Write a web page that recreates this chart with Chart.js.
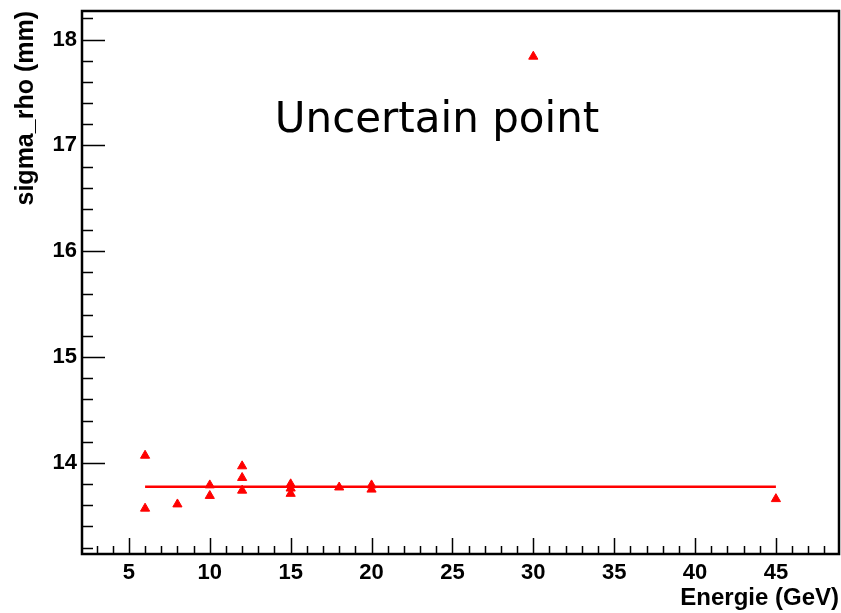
<!DOCTYPE html>
<html>
<head>
<meta charset="utf-8">
<script src="https://cdn.jsdelivr.net/npm/chart.js@4.4.1/dist/chart.umd.min.js"></script>
<style>
  html, body { margin: 0; padding: 0; background: #fff; }
  #wrap { width: 841px; height: 613px; }
</style>
</head>
<body>
<div id="wrap"><canvas id="chart" width="841" height="613"></canvas></div>
<script>
// data
const energie = [6, 6, 8, 10, 10, 12, 12, 12, 15, 15, 15, 18, 20, 20, 30, 45];
const sigmaRho = [14.07, 13.57, 13.61, 13.79, 13.69, 13.97, 13.86, 13.74, 13.80, 13.76, 13.71, 13.77, 13.79, 13.75, 17.84, 13.66];
const fitX = [6, 45];
const fitValue = 13.775;
const xRange = [2.1, 48.9];
const yRange = [13.14, 18.27];
const note = 'Uncertain point';

const axisFont = { family: '"Liberation Sans", Arial, sans-serif', size: 22, weight: 'bold' };
const xTitleFont = { family: '"Liberation Sans", Arial, sans-serif', size: 24, weight: 'bold' };
const yTitleFont = { family: '"Liberation Sans", Arial, sans-serif', size: 25, weight: 'bold' };

// frame + ROOT style ticks drawn inside the frame
const rootAxes = {
    id: 'rootAxes',
    afterDatasetsDraw(c) {
        const ctx = c.ctx;
        const a = c.chartArea;
        const xs = c.scales.x, ys = c.scales.y;
        ctx.save();
        ctx.strokeStyle = '#000';
        ctx.lineWidth = 1.5;
        ctx.beginPath();
        for (let v = 3; v <= 48; v++) {
            const px = Math.round(xs.getPixelForValue(v)) + 0.5;
            const len = v % 5 === 0 ? 16 : 8;
            ctx.moveTo(px, a.bottom);
            ctx.lineTo(px, a.bottom - len);
        }
        for (let i = 66; i <= 91; i++) {
            const py = Math.round(ys.getPixelForValue(i / 5)) + 0.5;
            const len = i % 5 === 0 ? 23 : 11;
            ctx.moveTo(a.left, py);
            ctx.lineTo(a.left + len, py);
        }
        ctx.stroke();
        ctx.lineWidth = 2.5;
        ctx.strokeRect(a.left, a.top, a.right - a.left, a.bottom - a.top);

        ctx.fillStyle = '#000';
        ctx.font = '42px "DejaVu Sans", Verdana, sans-serif';
        ctx.textAlign = 'center';
        ctx.textBaseline = 'alphabetic';
        ctx.fillText(note, xs.getPixelForValue(24.05), ys.getPixelForValue(17.13));
        ctx.restore();
    }
};

new Chart(document.querySelector('#chart').getContext('2d'), {
    type: 'scatter',
    data: {
        datasets: [
            {
                label: 'sigma_rho',
                data: energie.map((e, i) => ({ x: e, y: sigmaRho[i] })),
                pointStyle: 'triangle',
                pointRadius: 5.3,
                pointBorderWidth: 1,
                backgroundColor: '#ff0000',
                borderColor: '#ff0000'
            },
            {
                label: 'fit',
                data: fitX.map(x => ({ x: x, y: fitValue })),
                showLine: true,
                pointRadius: 0,
                borderColor: '#ff0000',
                borderWidth: 2.5
            }
        ]
    },
    plugins: [rootAxes],
    options: {
        responsive: false,
        animation: false,
        layout: { autoPadding: false, padding: { top: 11, right: 2, left: 0, bottom: 0 } },
        plugins: { legend: { display: false }, tooltip: { enabled: false } },
        scales: {
            x: {
                type: 'linear',
                min: xRange[0],
                max: xRange[1],
                grid: { display: false, drawTicks: false },
                border: { display: false },
                ticks: { stepSize: 5, includeBounds: false, padding: 6, color: '#000', font: axisFont },
                title: { display: true, text: 'Energie (GeV)', align: 'end', color: '#000', font: xTitleFont, padding: { top: 0, bottom: 0 } },
                afterFit(s) { s.height = 59; s.paddingLeft = 0; s.paddingRight = 0; }
            },
            y: {
                type: 'linear',
                min: yRange[0],
                max: yRange[1],
                grid: { display: false, drawTicks: false },
                border: { display: false },
                ticks: { stepSize: 1, includeBounds: false, padding: 5, color: '#000', font: axisFont },
                title: { display: true, text: 'sigma_rho (mm)', align: 'end', color: '#000', font: yTitleFont, padding: { top: 11, bottom: 0 } },
                afterFit(s) { s.width = 82; s.paddingTop = 0; s.paddingBottom = 0; }
            }
        }
    }
});
</script>
</body>
</html>
